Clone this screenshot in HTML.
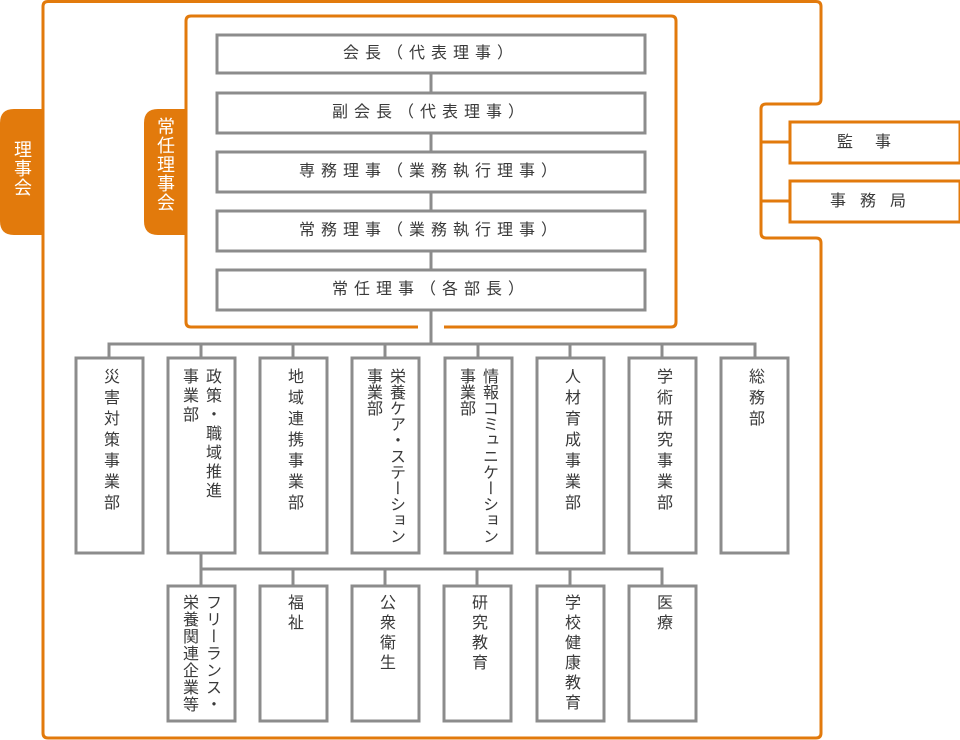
<!DOCTYPE html>
<html><head><meta charset="utf-8"><style>
body{margin:0;width:960px;height:740px;position:relative;background:#fff;overflow:hidden;font-family:"Liberation Sans","Noto Sans CJK JP",sans-serif;color:#3a3a3a}
svg{position:absolute;left:0;top:0}
.h{position:absolute;text-align:center;font-size:16px;letter-spacing:6px;line-height:20px}
.v{position:absolute;writing-mode:vertical-rl;font-size:16px;letter-spacing:4px;line-height:23px;white-space:nowrap}
.w{color:#fff;font-size:18px;letter-spacing:1px}
</style></head><body>
<svg width="960" height="740">
<g fill="none" stroke="#e27a0c" stroke-width="3">
<path d="M48,1.5 H816 Q821,1.5 821,6.5 V99 Q821,104 816,104 H766 Q761,104 761,109 V233 Q761,238 766,238 H816 Q821,238 821,243 V733 Q821,738 816,738 H48 Q43,738 43,733 V6.5 Q43,1.5 48,1.5 Z"/>
<path d="M418,327 H191 Q186,327 186,322 V21 Q186,16 191,16 H671 Q676,16 676,21 V322 Q676,327 671,327 H444"/>
<path d="M761,142 H790 M761,201 H790"/>
<rect x="790" y="122" width="170" height="41"/>
<rect x="790" y="181" width="170" height="41"/>
</g>
<path d="M43,109 H14 Q0,109 0,123 V221 Q0,235 14,235 H43 Z" fill="#e27a0c"/>
<path d="M186,109 H158 Q144,109 144,123 V221 Q144,235 158,235 H186 Z" fill="#e27a0c"/>
<g fill="none" stroke="#8c8c8c" stroke-width="3">
<rect x="217" y="35" width="428" height="38"/>
<rect x="217" y="93" width="428" height="40"/>
<rect x="217" y="152" width="428" height="40"/>
<rect x="217" y="211" width="428" height="40"/>
<rect x="217" y="270" width="428" height="40"/>
<path d="M431,73 V93 M431,133 V152 M431,192 V211 M431,251 V270 M431,310 V344"/>
<path d="M109,358 V344 H755 V358 M201,344 V358 M293,344 V358 M385,344 V358 M478,344 V358 M570,344 V358 M662,344 V358"/>
<rect x="76" y="358" width="67" height="195"/>
<rect x="168" y="358" width="67" height="195"/>
<rect x="260" y="358" width="67" height="195"/>
<rect x="352" y="358" width="67" height="195"/>
<rect x="445" y="358" width="67" height="195"/>
<rect x="537" y="358" width="67" height="195"/>
<rect x="629" y="358" width="67" height="195"/>
<rect x="721" y="358" width="67" height="195"/>
<path d="M201,553 V586 M201,569 H662 V586 M293,569 V586 M385,569 V586 M477,569 V586 M570,569 V586"/>
<rect x="168" y="586" width="67" height="135"/>
<rect x="260" y="586" width="67" height="135"/>
<rect x="352" y="586" width="67" height="135"/>
<rect x="444" y="586" width="67" height="135"/>
<rect x="537" y="586" width="67" height="135"/>
<rect x="629" y="586" width="67" height="135"/>
</g>
</svg>
<div class="v w" style="left:10px;top:140px">理事会</div>
<div class="v w" style="left:153px;top:117px">常任理事会</div>
<div class="h" style="left:217px;top:44px;width:428px">会長（代表理事）</div>
<div class="h" style="left:217px;top:103px;width:428px">副会長（代表理事）</div>
<div class="h" style="left:217px;top:162px;width:428px">専務理事（業務執行理事）</div>
<div class="h" style="left:217px;top:221px;width:428px">常務理事（業務執行理事）</div>
<div class="h" style="left:217px;top:280px;width:428px">常任理事（各部長）</div>
<div class="h" style="left:790px;top:133px;width:170px;letter-spacing:22px">監事</div>
<div class="h" style="left:790px;top:192px;width:170px;letter-spacing:14px">事務局</div>
<div class="v" style="left:98px;top:368px;letter-spacing:5px">災害対策事業部</div>
<div class="v" style="left:177px;top:368px;letter-spacing:3px">政策・職域推進<br>事業部</div>
<div class="v" style="left:282px;top:368px;letter-spacing:5px">地域連携事業部</div>
<div class="v" style="left:361px;top:368px;letter-spacing:0">栄養ケア・ステーション<br>事業部</div>
<div class="v" style="left:454px;top:368px;letter-spacing:0">情報コミュニケーション<br>事業部</div>
<div class="v" style="left:559px;top:368px;letter-spacing:5px">人材育成事業部</div>
<div class="v" style="left:651px;top:368px;letter-spacing:5px">学術研究事業部</div>
<div class="v" style="left:743px;top:368px;letter-spacing:5px">総務部</div>
<div class="v" style="left:177px;top:594px;letter-spacing:1px">フリーランス・<br>栄養関連企業等</div>
<div class="v" style="left:282px;top:594px">福祉</div>
<div class="v" style="left:374px;top:594px">公衆衛生</div>
<div class="v" style="left:466px;top:594px">研究教育</div>
<div class="v" style="left:559px;top:594px">学校健康教育</div>
<div class="v" style="left:651px;top:594px">医療</div>
</body></html>
